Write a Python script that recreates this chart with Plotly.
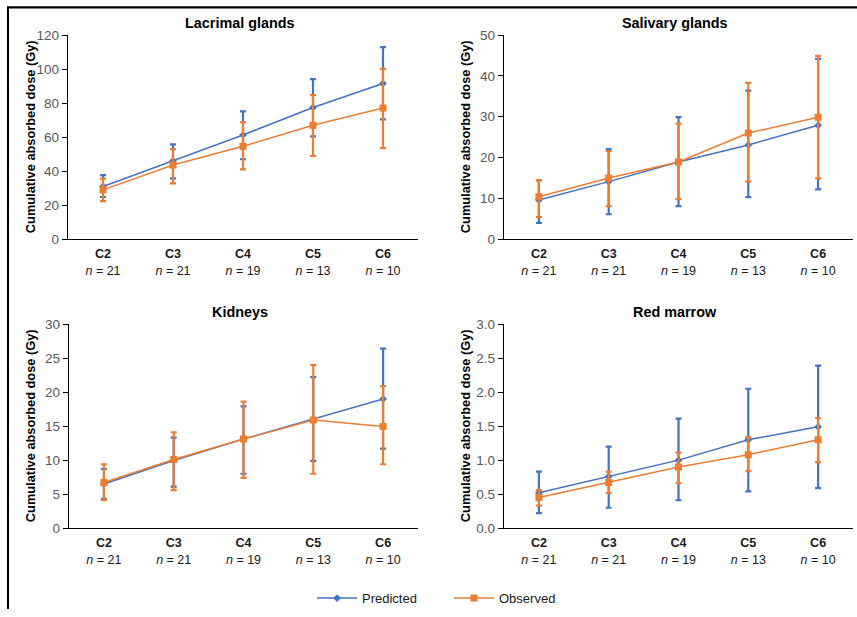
import numpy as np
import plotly.graph_objects as go

# ---------------- data ----------------
categories = ["C2", "C3", "C4", "C5", "C6"]
n_values = [21, 21, 19, 13, 10]

lacrimal_pred = [31.0, 46.0, 61.3, 77.4, 91.6]
lacrimal_pred_hi = [37.7, 55.8, 75.2, 94.1, 113.0]
lacrimal_pred_lo = [24.8, 35.8, 47.0, 60.5, 70.5]
lacrimal_obs = [29.0, 43.6, 54.6, 67.0, 77.2]
lacrimal_obs_hi = [35.6, 53.0, 68.8, 84.7, 100.2]
lacrimal_obs_lo = [22.4, 32.8, 41.0, 48.9, 53.6]

salivary_pred = [9.6, 14.1, 18.9, 23.1, 27.9]
salivary_pred_hi = [14.4, 22.1, 29.9, 36.4, 44.2]
salivary_pred_lo = [4.0, 6.1, 8.1, 10.3, 12.2]
salivary_obs = [10.4, 15.0, 18.9, 26.0, 29.9]
salivary_obs_hi = [14.5, 21.6, 28.3, 38.3, 44.9]
salivary_obs_lo = [5.4, 8.1, 9.8, 14.1, 14.9]

kidney_pred = [6.5, 9.95, 13.1, 16.0, 19.0]
kidney_pred_hi = [8.7, 13.3, 17.9, 22.2, 26.4]
kidney_pred_lo = [4.3, 6.1, 8.0, 9.9, 11.7]
kidney_obs = [6.7, 10.1, 13.1, 15.9, 14.95]
kidney_obs_hi = [9.4, 14.1, 18.6, 24.0, 20.9]
kidney_obs_lo = [4.1, 5.6, 7.4, 8.0, 9.4]

marrow_pred = [0.52, 0.76, 1.0, 1.3, 1.49]
marrow_pred_hi = [0.83, 1.2, 1.61, 2.05, 2.39]
marrow_pred_lo = [0.22, 0.3, 0.41, 0.54, 0.59]
marrow_obs = [0.45, 0.67, 0.9, 1.08, 1.3]
marrow_obs_hi = [0.56, 0.83, 1.11, 1.34, 1.62]
marrow_obs_lo = [0.33, 0.52, 0.66, 0.84, 0.97]

panel_titles = ["Lacrimal glands", "Salivary glands", "Kidneys", "Red marrow"]
y_ranges = [[0, 120], [0, 50], [0, 30], [0, 3]]
y_dticks = [20, 10, 5, 0.5]
y_tickformats = ["d", "d", "d", ".1f"]
y_title = "Cumulative absorbed dose (Gy)"
series_names = ["Predicted", "Observed"]

# ---------------- style ----------------
W, H = 857, 617
FONT = "Liberation Sans, Arial, sans-serif"
BLUE = "#4472C4"
ORANGE = "#ED7D31"
TICKGRAY = "#595959"

panels = [
    (lacrimal_pred, lacrimal_pred_hi, lacrimal_pred_lo, lacrimal_obs, lacrimal_obs_hi, lacrimal_obs_lo),
    (salivary_pred, salivary_pred_hi, salivary_pred_lo, salivary_obs, salivary_obs_hi, salivary_obs_lo),
    (kidney_pred, kidney_pred_hi, kidney_pred_lo, kidney_obs, kidney_obs_hi, kidney_obs_lo),
    (marrow_pred, marrow_pred_hi, marrow_pred_lo, marrow_obs, marrow_obs_hi, marrow_obs_lo),
]

# target pixel geometry of plot areas (left, right, top, bottom)
geom = [
    (68, 418, 35, 239),
    (504, 853, 35, 239),
    (69, 418, 324, 528),
    (504, 853, 324, 528),
]
title_pos = [(240, 23), (675, 23), (240, 312), (675, 312)]
ytitle_x = [30, 465, 30, 465]

# observed vertical mapping of the photographed page
V_SCALE, V_OFF = 0.9757, 6.85

def px(x):
    return x / W

def py(y):
    return 1 - ((y - V_OFF) / V_SCALE) / H

fig = go.Figure()
xs = list(range(len(categories)))
ticktext = [f"<b>{c}</b><br><i>n</i> = {n}" for c, n in zip(categories, n_values)]

layout_axes = {}
annotations = []
for i, (pm, ph, pl, om, oh, ol) in enumerate(panels):
    ax = "" if i == 0 else str(i + 1)
    for name, m, hi, lo, color, sym, msize in [
        (series_names[0], pm, ph, pl, BLUE, "diamond", 6),
        (series_names[1], om, oh, ol, ORANGE, "square", 7),
    ]:
        m_arr = np.array(m)
        fig.add_trace(go.Scatter(
            x=xs, y=m, name=name, mode="lines+markers",
            xaxis="x" + ax, yaxis="y" + ax,
            line=dict(color=color, width=1.5),
            marker=dict(symbol=sym, size=msize, color=color),
            error_y=dict(type="data", symmetric=False,
                         array=(np.array(hi) - m_arr).tolist(),
                         arrayminus=(m_arr - np.array(lo)).tolist(),
                         color=color, thickness=2.2, width=3),
            showlegend=(i == 0),
        ))
    l, r, t, b = geom[i]
    layout_axes["xaxis" + ax] = dict(
        domain=[px(l), px(r)], anchor="y" + ax, range=[-0.5, 4.5],
        tickvals=xs, ticktext=ticktext, showgrid=False, zeroline=False,
        showline=True, linecolor="#000000", linewidth=1.3, ticks="",
        ticklabelstandoff=3,
        tickfont=dict(family=FONT, size=12.5, color="#1a1a1a"),
        fixedrange=True,
    )
    layout_axes["yaxis" + ax] = dict(
        domain=[py(b), py(t)], anchor="x" + ax, range=y_ranges[i],
        dtick=y_dticks[i], tick0=0, tickformat=y_tickformats[i],
        showgrid=False, zeroline=False, showline=True,
        linecolor="#000000", linewidth=1.3, ticks="outside", ticklen=5,
        tickcolor="#000000", tickwidth=1,
        tickfont=dict(family=FONT, size=13.5, color=TICKGRAY),
        fixedrange=True,
    )
    tx, ty = title_pos[i]
    annotations.append(dict(
        text=f"<b>{panel_titles[i]}</b>", x=px(tx), y=py(ty), xref="paper", yref="paper",
        showarrow=False, xanchor="center", yanchor="middle",
        font=dict(family=FONT, size=14.4, color="#000000"),
    ))
    annotations.append(dict(
        text=f"<b>{y_title}</b>", x=px(ytitle_x[i]), y=py((t + b) / 2),
        xref="paper", yref="paper", showarrow=False, textangle=-90,
        xanchor="center", yanchor="middle",
        font=dict(family=FONT, size=12.8, color="#000000"),
    ))

shapes = [
    dict(type="line", xref="paper", yref="paper", x0=px(7), x1=1, y0=py(7.3), y1=py(7.3),
         line=dict(color="#000000", width=2.2)),
    dict(type="line", xref="paper", yref="paper", x0=px(8), x1=px(8), y0=py(6.5), y1=0,
         line=dict(color="#000000", width=2)),
]

fig.update_layout(
    width=W, height=H,
    margin=dict(l=0, r=0, t=0, b=0),
    paper_bgcolor="white", plot_bgcolor="white",
    font=dict(family=FONT, color="#000000"),
    annotations=annotations, shapes=shapes,
    legend=dict(orientation="h", x=px(312), y=py(598), xanchor="left", yanchor="middle",
                font=dict(family=FONT, size=13, color="#1a1a1a"),
                itemwidth=40, entrywidth=82, bgcolor="rgba(0,0,0,0)"),
    hovermode=False,
    **layout_axes,
)

post = ("document.documentElement.style.margin='0';"
        "document.documentElement.style.overflow='hidden';"
        "document.body.style.margin='0';document.body.style.padding='0';"
        "document.body.style.overflow='hidden';"
        "var gd=document.getElementById('{plot_id}');"
        "gd.style.position='fixed';gd.style.top='0px';gd.style.left='0px';")
fig.write_html("out.html", post_script=post, config={"displayModeBar": False, "staticPlot": True})
